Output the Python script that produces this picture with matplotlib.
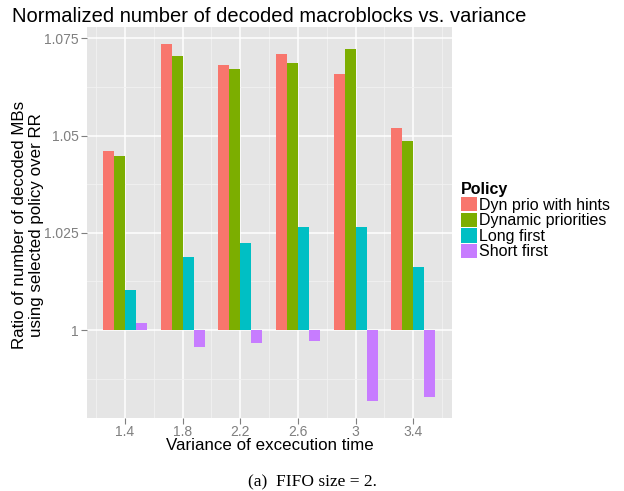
import matplotlib.pyplot as plt
import numpy as np
from matplotlib.patches import Patch

plt.rcParams['font.family'] = ['Liberation Sans', 'DejaVu Sans']

# variance values (x) and the ratio for each policy
variance = [1.4, 1.8, 2.2, 2.6, 3.0, 3.4]
tick_labels = ['1.4', '1.8', '2.2', '2.6', '3', '3.4']
policies = ['Dyn prio with hints', 'Dynamic priorities', 'Long first', 'Short first']
dyn_hints = [1.0460, 1.0736, 1.0682, 1.0710, 1.0658, 1.0520]
dyn_prio = [1.0448, 1.0705, 1.0671, 1.0687, 1.0723, 1.0486]
long_first = [1.0103, 1.0188, 1.0224, 1.0265, 1.0265, 1.0162]
short_first = [1.0018, 0.9956, 0.9967, 0.9972, 0.9817, 0.9828]
colors = ['#F8766D', '#7CAE00', '#00BFC4', '#C77CFF']

fig = plt.figure(figsize=(6.24, 4.91), dpi=100)
ax = fig.add_axes([87.3/624, 1-418.3/491, (451.7-87.3)/624, (418.3-26.7)/491])
ax.set_facecolor('#E5E5E5')

bw = 0.076
x = np.array(variance)
series = [dyn_hints, dyn_prio, long_first, short_first]
for i, vals in enumerate(series):
    v = np.array(vals)
    ax.bar(x + (i - 1.5)*bw, v - 1, bottom=1, width=bw, color=colors[i],
           linewidth=0, zorder=3)

ax.set_xlim(1.1385, 3.6664)
ax.set_ylim(0.9773, 1.07798)
ax.set_xticks(variance)
ax.set_xticklabels(tick_labels)
ax.set_yticks([1.0, 1.025, 1.05, 1.075])
ax.set_yticklabels(['1', '1.025', '1.05', '1.075'])
ax.set_xticks([1.2, 1.6, 2.0, 2.4, 2.8, 3.2, 3.6], minor=True)
ax.set_yticks([0.9875, 1.0125, 1.0375, 1.0625], minor=True)
ax.grid(which='major', color='white', linewidth=1.1, zorder=0)
ax.grid(which='minor', color='#F2F2F2', linewidth=0.6, zorder=0)
ax.set_axisbelow(True)
for s in ax.spines.values():
    s.set_visible(False)
ax.tick_params(which='major', colors='#7F7F7F', labelsize=10, length=4, width=0.8, pad=2)
ax.tick_params(axis='x', pad=1)
ax.tick_params(which='minor', length=0)

fig.text(12/624, 1-17/491, 'Normalized number of decoded macroblocks vs. variance',
         fontsize=14.5, va='center', ha='left')
fig.text(28/624, 1-225/491, 'Ratio of number of decoded MBs\nusing selected policy over RR',
         rotation=90, ha='center', va='center', fontsize=12.2, linespacing=1.2)
fig.text(270/624, 1-446/491, 'Variance of excecution time', fontsize=12.2,
         ha='center', va='center')
fig.text(312/624, 1-482/491, '(a)  FIFO size = 2.', fontsize=12.5, ha='center',
         va='center', family=['Liberation Serif', 'DejaVu Serif'])

handles = [Patch(facecolor=c, edgecolor='none') for c in colors]
leg = fig.legend(handles, policies, loc='upper left', bbox_to_anchor=(461/624, 1-182/491),
                 frameon=False, fontsize=11.5, handlelength=1.0, handleheight=1.0,
                 labelspacing=0.0, handletextpad=0.12, borderpad=0, borderaxespad=0,
                 title='Policy', title_fontproperties={'weight': 'bold', 'size': 11.5})
leg._legend_box.align = 'left'

fig.savefig('out.png', dpi=100)
